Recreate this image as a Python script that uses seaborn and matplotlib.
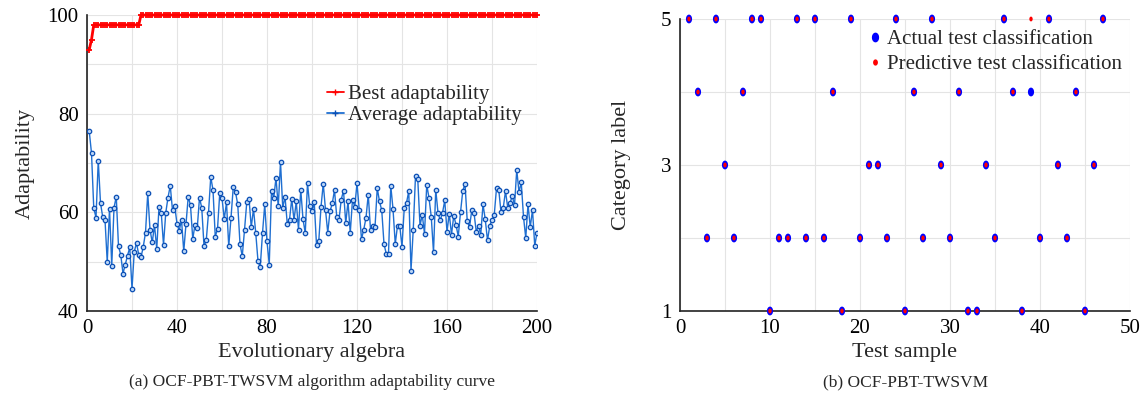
import numpy as np
import pandas as pd
import matplotlib
matplotlib.use("Agg")
import matplotlib.pyplot as plt
from matplotlib.lines import Line2D
from matplotlib.path import Path
import seaborn as sns

# ---------------- data ----------------
generations = list(range(1, 201))
best_fitness = [93.0, 95.0] + [98.0] * 21 + [100.0] * 177
avg_fitness = [
    76.4, 72.0, 60.9, 58.9, 70.5, 61.9, 59.0, 58.5, 49.9, 60.7,
    49.2, 60.9, 63.2, 53.1, 51.4, 47.6, 49.4, 51.2, 52.9, 44.5,
    52.0, 53.8, 51.4, 50.9, 53.0, 55.9, 63.9, 56.5, 53.9, 57.4,
    52.6, 61.1, 59.9, 53.4, 59.9, 63.0, 65.4, 60.4, 61.2, 57.7,
    56.3, 58.5, 52.1, 57.6, 63.2, 61.4, 54.6, 57.5, 56.8, 63.0,
    60.9, 53.2, 54.3, 59.9, 67.2, 64.5, 55.1, 56.6, 63.9, 62.9,
    58.6, 62.0, 53.1, 58.9, 65.1, 64.1, 61.6, 53.6, 51.1, 56.4,
    62.0, 62.8, 57.0, 60.7, 55.8, 50.1, 48.9, 55.8, 61.6, 54.1,
    49.4, 64.4, 62.9, 67.0, 61.2, 70.2, 60.9, 63.2, 57.7, 58.5,
    62.7, 58.4, 62.2, 56.5, 64.6, 58.6, 55.8, 65.9, 61.2, 60.2,
    62.0, 53.4, 54.1, 61.1, 65.8, 60.5, 55.9, 60.2, 61.8, 64.5,
    59.1, 58.5, 62.6, 64.4, 57.8, 62.2, 55.8, 62.6, 61.1, 65.9,
    60.5, 54.6, 56.5, 58.9, 63.6, 56.5, 57.3, 57.0, 64.9, 62.2,
    60.4, 53.6, 51.6, 51.6, 65.4, 60.7, 53.6, 57.3, 57.3, 53.0,
    60.9, 61.9, 64.3, 48.2, 56.5, 67.4, 66.8, 57.3, 59.5, 55.7,
    65.6, 62.9, 59.1, 51.9, 64.6, 59.9, 58.4, 59.9, 62.4, 56.1,
    59.7, 55.5, 59.3, 57.5, 55.1, 60.0, 64.3, 65.8, 58.2, 57.0,
    60.4, 59.9, 56.1, 57.3, 55.5, 61.6, 58.6, 54.3, 57.3, 58.4,
    59.5, 64.9, 64.6, 60.0, 60.9, 64.3, 60.9, 61.8, 63.4, 61.4,
    68.6, 64.1, 66.1, 59.1, 54.8, 61.6, 57.0, 60.5, 53.2, 55.9,
]

samples = list(range(1, 48))
actual_class = [5, 4, 2, 5, 3, 2, 4, 5, 5, 1, 2, 2, 5, 2, 5, 2, 4, 1, 5, 2,
                3, 3, 2, 5, 1, 4, 2, 5, 3, 2, 4, 1, 1, 3, 2, 5, 4, 1, 4, 2,
                5, 3, 2, 4, 1, 3, 5]
predicted_class = [5, 4, 2, 5, 3, 2, 4, 5, 5, 1, 2, 2, 5, 2, 5, 2, 4, 1, 5, 2,
                   3, 3, 2, 5, 1, 4, 2, 5, 3, 2, 4, 1, 1, 3, 2, 5, 4, 1, 5, 2,
                   5, 3, 2, 4, 1, 3, 5]

left_xticks = [0, 40, 80, 120, 160, 200]
left_yticks = [40, 60, 80, 100]
right_xticks = [0, 10, 20, 30, 40, 50]
right_yticks = [1, 3, 5]

caption_a = "(a) OCF-PBT-TWSVM algorithm adaptability curve"
caption_b = "(b) OCF-PBT-TWSVM"

# ---------------- style ----------------
sns.set_style("white")
plt.rcParams['font.family'] = ['Liberation Serif', 'DejaVu Serif']

TICK_FS = 15
LABEL_FS = 16
LEG_FS = 15
CAP_FS = 12.5
GRID_C = '#e4e4e4'
RED = '#ff0000'
BLUE = '#1f6fd1'
BLUE_EDGE = '#0b4fb5'

fig = plt.figure(figsize=(11.42, 4.09), dpi=100)
ax1 = fig.add_axes([87 / 1142, 1 - 311 / 409, 450 / 1142, 296 / 409])
ax2 = fig.add_axes([680 / 1142, 1 - 311 / 409, 450 / 1142, 292 / 409])

# ---------------- left panel ----------------
df_best = pd.DataFrame({"gen": generations, "fit": best_fitness})
df_avg = pd.DataFrame({"gen": generations, "fit": avg_fitness})

sns.lineplot(data=df_avg, x="gen", y="fit", ax=ax1, color=BLUE,
             linewidth=1.0, marker='o', markersize=3.2,
             markerfacecolor='#b9d4f5', markeredgecolor=BLUE_EDGE,
             markeredgewidth=0.9, zorder=3)
sns.lineplot(data=df_best, x="gen", y="fit", ax=ax1, color=RED,
             linewidth=2.0, marker='+', markersize=4.5, markeredgewidth=1.3,
             markeredgecolor=RED, zorder=4, clip_on=False)

ax1.set_xlim(0, 200)
ax1.set_ylim(40, 100)
ax1.set_xticks(np.arange(0, 201, 20))
ax1.set_xticklabels([str(v) if v in left_xticks else '' for v in range(0, 201, 20)])
ax1.set_yticks(np.arange(40, 101, 10))
ax1.set_yticklabels([str(v) if v in left_yticks else '' for v in range(40, 101, 10)])
ax1.set_xlabel("Evolutionary algebra", fontsize=LABEL_FS, labelpad=3)
ax1.set_ylabel("Adaptability", fontsize=LABEL_FS, labelpad=9)

leg_h1 = [Line2D([], [], color=RED, marker='+', markersize=5, linewidth=1.3,
                 markeredgecolor=RED),
          Line2D([], [], color=BLUE, marker='+', markersize=5, linewidth=1.3,
                 markeredgecolor=BLUE_EDGE)]
ax1.legend(leg_h1, ["Best adaptability", "Average adaptability"],
           loc='upper left', bbox_to_anchor=(0.515, 0.792), frameon=False,
           fontsize=LEG_FS, handlelength=0.8, handletextpad=0.2,
           labelspacing=0.05, borderaxespad=0)

# ---------------- right panel ----------------
df_act = pd.DataFrame({"sample": samples, "label": actual_class})
df_pred = pd.DataFrame({"sample": samples, "label": predicted_class})

t = np.linspace(0, 2 * np.pi, 40)
ellipse = Path(np.column_stack([0.7 * np.cos(t), np.sin(t)]), closed=True)

sns.scatterplot(data=df_act, x="sample", y="label", ax=ax2, color='#0000ff',
                marker=ellipse, s=40, edgecolor='none', zorder=3, clip_on=False)
sns.scatterplot(data=df_pred, x="sample", y="label", ax=ax2, color=RED,
                marker=ellipse, s=12, edgecolor='none', zorder=4, clip_on=False)

ax2.set_xlim(0, 50)
ax2.set_ylim(1, 5)
ax2.set_xticks(np.arange(0, 51, 5))
ax2.set_xticklabels([str(v) if v in right_xticks else '' for v in range(0, 51, 5)])
ax2.set_yticks([1, 2, 3, 4, 5])
ax2.set_yticklabels([str(v) if v in right_yticks else '' for v in [1, 2, 3, 4, 5]])
ax2.set_xlabel("Test sample", fontsize=LABEL_FS, labelpad=3)
ax2.set_ylabel("Category label", fontsize=LABEL_FS, labelpad=22)

leg_h2 = [Line2D([], [], linestyle='none', marker=ellipse, markersize=6,
                 color='#0000ff'),
          Line2D([], [], linestyle='none', marker=ellipse, markersize=3.5,
                 color=RED)]
ax2.legend(leg_h2, ["Actual test classification", "Predictive test classification"],
           loc='upper left', bbox_to_anchor=(0.40, 0.992), frameon=False,
           fontsize=LEG_FS, handlelength=0.6, handletextpad=0.3,
           labelspacing=0.25, borderaxespad=0)

for ax in (ax1, ax2):
    ax.grid(True, color=GRID_C, linewidth=0.8)
    ax.set_axisbelow(True)
    for s in ('top', 'right'):
        ax.spines[s].set_visible(False)
    for s in ('left', 'bottom'):
        ax.spines[s].set_color('#222222')
        ax.spines[s].set_linewidth(1.2)
    ax.tick_params(direction='in', length=5, width=1.0, colors='#222222',
                   labelsize=TICK_FS, labelcolor='black', pad=6)

fig.text(312 / 1142, 1 - 382 / 409, caption_a, ha='center', va='center', fontsize=CAP_FS)
fig.text(906 / 1142, 1 - 382 / 409, caption_b, ha='center', va='center', fontsize=CAP_FS)

fig.savefig("out.png", dpi=100)
